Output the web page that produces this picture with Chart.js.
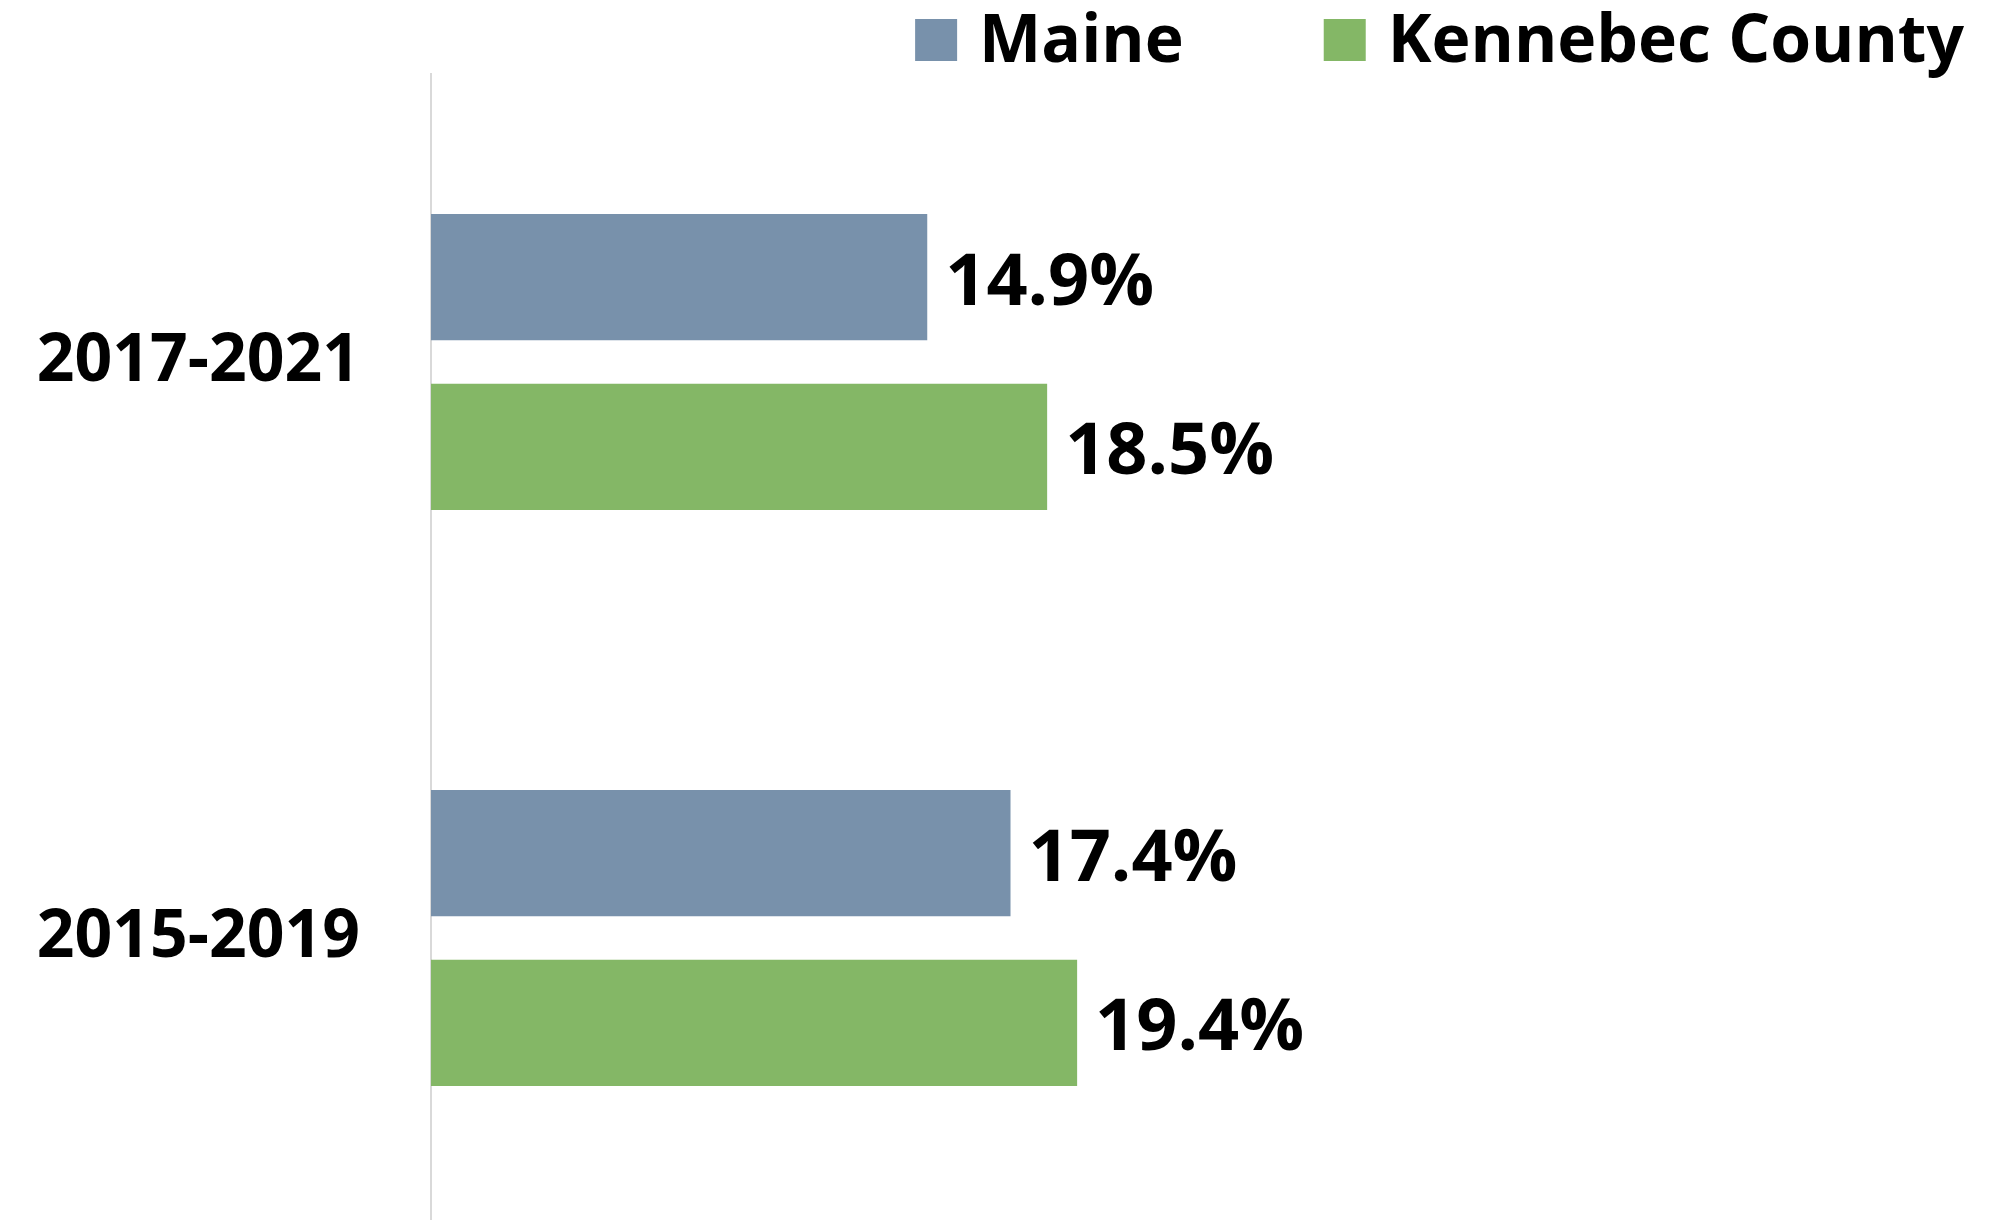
<!DOCTYPE html>
<html>
<head>
<meta charset="utf-8">
<script src="https://cdn.jsdelivr.net/npm/chart.js@4.4.0/dist/chart.umd.min.js"></script>
<style>
  html, body { margin: 0; padding: 0; background: #ffffff; overflow: hidden; }
  #wrap { width: 2013px; height: 1226px; }
</style>
</head>
<body>
<div id="wrap"><canvas id="rate-chart" width="2013" height="1226"></canvas></div>
<script>
//Chart data
var periods = ["2017-2021", "2015-2019"];
var seriesNames = ["Maine", "Kennebec County"];
var maineValues = [14.9, 17.4];
var kennebecValues = [18.5, 19.4];
var seriesColors = ["#7891ab", "#84b766"];

var labelFont = "bold 66px 'Open Sans'";
var valueFont = "bold 72px 'Open Sans'";

//Writes the value at the end of every bar
var valueLabels = {
  id: 'valueLabels',
  afterDatasetsDraw: function(chart) {
    var ctx = chart.ctx;
    ctx.save();
    ctx.font = valueFont;
    ctx.fillStyle = "#000000";
    ctx.textAlign = "left";
    ctx.textBaseline = "middle";
    chart.data.datasets.forEach(function(ds, i) {
      var meta = chart.getDatasetMeta(i);
      meta.data.forEach(function(bar, j) {
        ctx.fillText(ds.data[j].toFixed(1) + "%", bar.x + 18, bar.y + 7);
      });
    });
    ctx.restore();
  }
};

//Legend in the top right corner
var topLegend = {
  id: 'topLegend',
  afterDraw: function(chart) {
    var ctx = chart.ctx;
    var box = 42;
    var gap = 22;
    var spacing = 140;
    var midY = 40;
    ctx.save();
    ctx.font = labelFont;
    ctx.textAlign = "left";
    ctx.textBaseline = "middle";
    var x = chart.width - 49;
    for (var i = chart.data.datasets.length - 1; i >= 0; i--) {
      var ds = chart.data.datasets[i];
      var w = ctx.measureText(ds.label).width;
      x -= w;
      ctx.fillStyle = "#000000";
      ctx.fillText(ds.label, x, midY + 3);
      x -= gap + box;
      ctx.fillStyle = ds.backgroundColor;
      ctx.fillRect(x, midY - box / 2, box, box);
      x -= spacing;
    }
    ctx.restore();
  }
};

var rateChart = new Chart(document.getElementById("rate-chart"), {
  type: 'bar',
  data: {
    labels: periods,
    datasets: [{
      label: seriesNames[0],
      data: maineValues,
      backgroundColor: seriesColors[0],
      borderWidth: 0,
      barPercentage: 0.743,
      categoryPercentage: 0.59
    }, {
      label: seriesNames[1],
      data: kennebecValues,
      backgroundColor: seriesColors[1],
      borderWidth: 0,
      barPercentage: 0.743,
      categoryPercentage: 0.59
    }]
  },
  options: {
    indexAxis: 'y',
    responsive: false,
    animation: false,
    devicePixelRatio: 1,
    layout: {
      padding: { top: 74, left: 0, right: 0, bottom: 0 }
    },
    plugins: {
      legend: { display: false },
      tooltip: { enabled: false }
    },
    scales: {
      x: {
        display: false,
        min: 0,
        max: 47.5
      },
      y: {
        grid: { display: false, drawTicks: false },
        border: { display: true, color: "#d9d9d9", width: 2 },
        ticks: {
          color: "#000000",
          padding: 71,
          font: { family: "'Open Sans'", size: 66, weight: 'bold' }
        },
        afterFit: function(scale) {
          scale.width = 431;
          scale.paddingTop = 0;
          scale.paddingBottom = 0;
        }
      }
    }
  },
  plugins: [valueLabels, topLegend]
});
</script>
</body>
</html>
